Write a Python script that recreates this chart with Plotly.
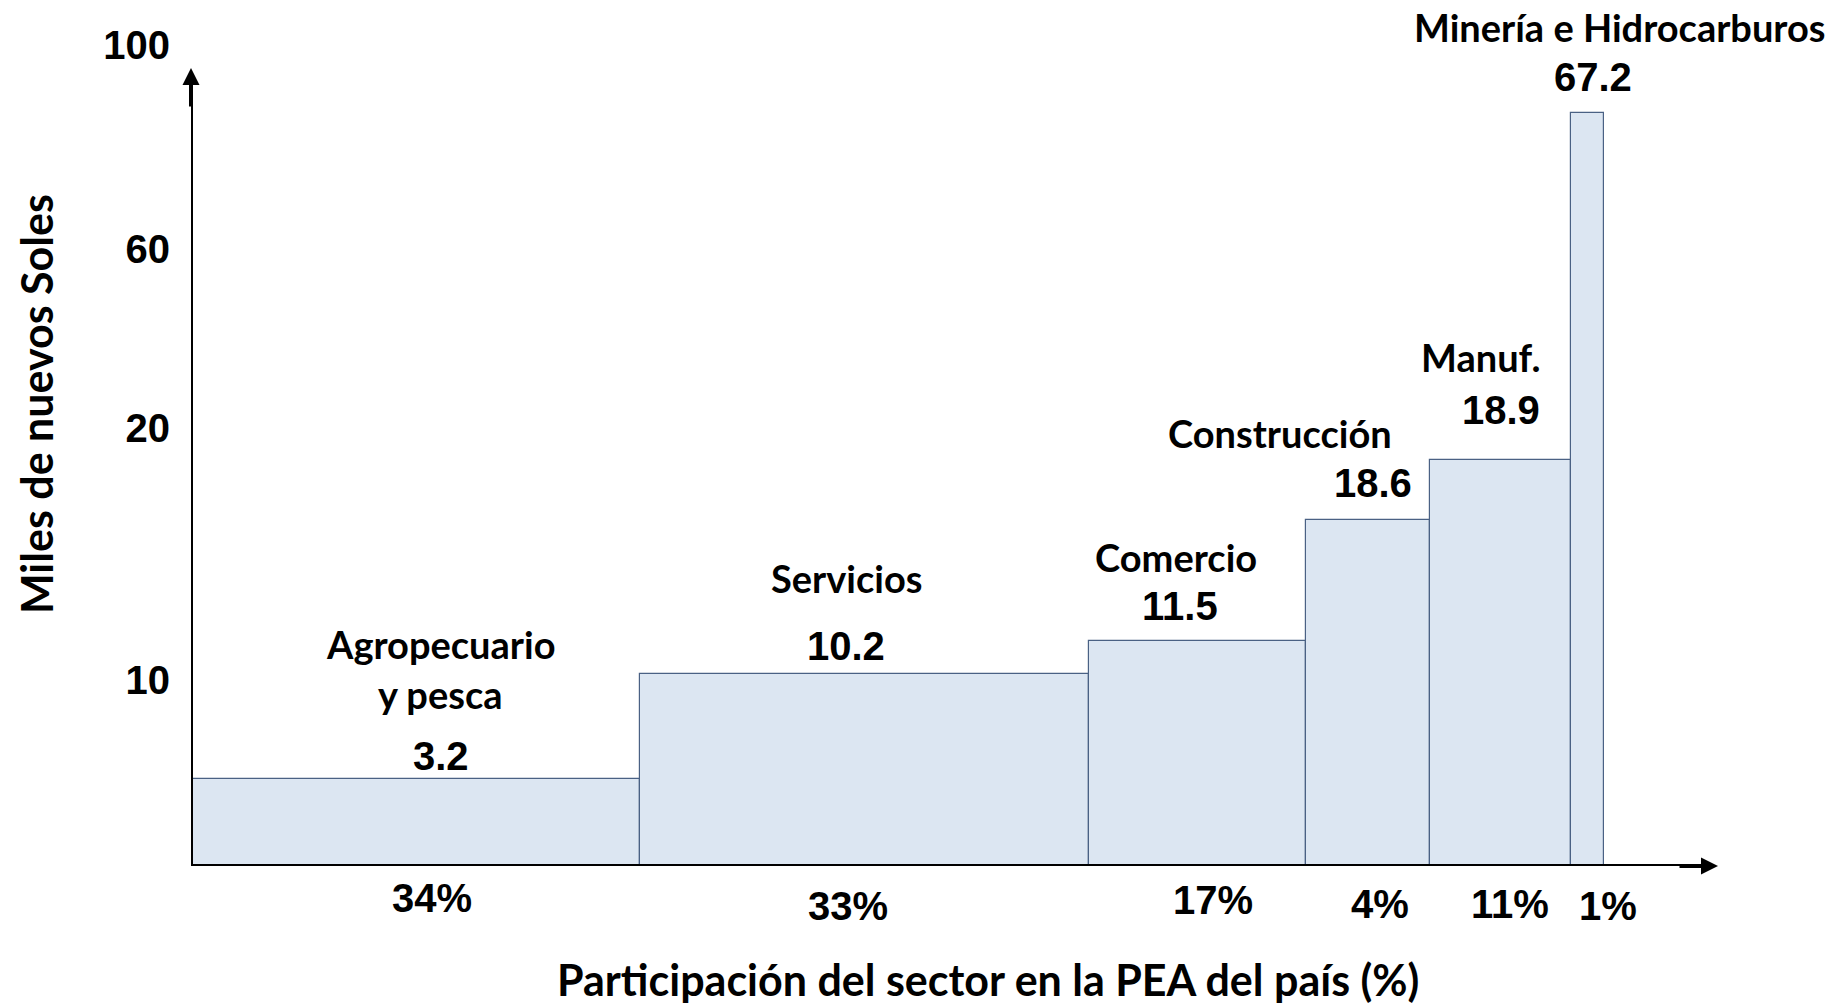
import plotly.graph_objects as go

# ---- data ----
sectors = ["Agropecuario<br>y pesca", "Servicios", "Comercio", "Construcción", "Manuf.", "Minería e Hidrocarburos"]
ingreso = [3.2, 10.2, 11.5, 18.6, 18.9, 67.2]          # miles de nuevos soles (labels)
pea_share = [34, 33, 17, 4, 11, 1]                      # % of PEA (labels)
bar_width = [4.49, 4.49, 2.17, 1.24, 1.41, 0.33]        # drawn widths (schematic units)
bar_height = [0.87, 1.92, 2.25, 3.46, 4.06, 7.53]       # drawn heights (schematic units)
y_tick_pos = [1.86, 4.38, 6.17, 8.21]
y_tick_text = ["10", "20", "60", "100"]

# ---- layout offsets (pixels) for labels ----
name_dx = [25, -18, -22, -88, -20, 32]
name_up = [[135, 85], [96], [84], [87], [103], [86]]
val_dx = [25, -19, -18, 5, 0, 5]
val_up = [23, 28, 35, 37, 50, 36]
pct_dx = [16, -17, 15, 12, 9, 20]
pct_down = [32, 40, 34, 38, 38, 40]

W, H = 1834, 1008
ML, MR, MT, MB = 191, 112, 30, 142
PW, PH = W - ML - MR, H - MT - MB
XR = PW / 100.0
YR = PH / 100.0

left = []
acc = 0.0
for w in bar_width:
    left.append(acc)
    acc += w
centers = [l + w / 2 for l, w in zip(left, bar_width)]

name_font = dict(family="Lato", size=38, color="black", weight=700)
num_font = dict(family="Liberation Sans", size=40, color="black", weight=700)
title_font = dict(family="Lato", size=43, color="black", weight=700)

fig = go.Figure()
fig.add_trace(go.Bar(
    x=centers, y=bar_height, width=bar_width,
    marker=dict(color="#DCE6F2", line=dict(color="#4A6184", width=1.2)),
    hoverinfo="skip", showlegend=False,
))

ann = []
for i in range(len(sectors)):
    lines = sectors[i].split("<br>")
    for j, line in enumerate(lines):
        ann.append(dict(x=centers[i], y=bar_height[i], xref="x", yref="y", text=line,
                        showarrow=False, xanchor="center", yanchor="middle",
                        xshift=name_dx[i], yshift=name_up[i][j], font=name_font))
    ann.append(dict(x=centers[i], y=bar_height[i], xref="x", yref="y", text=f"{ingreso[i]:.1f}",
                    showarrow=False, xanchor="center", yanchor="middle",
                    xshift=val_dx[i], yshift=val_up[i], font=num_font))
    ann.append(dict(x=centers[i], y=0, xref="x", yref="y", text=f"{pea_share[i]}%",
                    showarrow=False, xanchor="center", yanchor="middle",
                    xshift=pct_dx[i], yshift=-pct_down[i], font=num_font))

# arrow heads
ann.append(dict(x=0, y=(866 - 68) / 100, xref="x", yref="y", ax=0, ay=40, axref="pixel", ayref="pixel",
                text="", showarrow=True, arrowhead=2, arrowsize=0.85, arrowwidth=4, arrowcolor="black"))
ann.append(dict(x=(1718 - ML) / 100, y=0, xref="x", yref="y", ax=-40, ay=0,
                text="", showarrow=True, arrowhead=2, arrowsize=0.85, arrowwidth=4, arrowcolor="black"))

# axis titles (paper coordinates)
ann.append(dict(x=(37 - ML) / PW, y=(866 - 404) / PH, xref="paper", yref="paper", text="Miles de nuevos Soles",
                textangle=-90, showarrow=False, xanchor="center", yanchor="middle", font=title_font))
ann.append(dict(x=(988 - ML) / PW, y=(866 - 980) / PH, xref="paper", yref="paper",
                text="Participación del sector en la PEA del país (%)",
                showarrow=False, xanchor="center", yanchor="middle", font=title_font))

shapes = [
    dict(type="line", xref="x", yref="y", x0=0, x1=0, y0=-0.96, y1=7.9,
         line=dict(color="black", width=4)),
    dict(type="line", xref="x", yref="y", x0=-0.51, x1=15.1, y0=0, y1=0,
         line=dict(color="black", width=4)),
]

fig.update_layout(
    width=W, height=H,
    margin=dict(l=ML, r=MR, t=MT, b=MB, autoexpand=False),
    paper_bgcolor="white", plot_bgcolor="white",
    bargap=0,
    xaxis=dict(range=[0, XR], visible=False, fixedrange=True, automargin=False),
    yaxis=dict(range=[0, YR], showgrid=False, zeroline=False, showline=False, automargin=False,
               fixedrange=True,
               tickmode="array", tickvals=y_tick_pos, ticktext=y_tick_text,
               ticks="", ticklabelstandoff=20,
               tickfont=dict(family="Liberation Sans", size=40, color="black", weight=700)),
    annotations=ann,
    shapes=shapes,
)

fig.write_html("out.html", config={"displayModeBar": False},
               post_script="document.body.style.margin='0';document.body.style.overflow='hidden';")
